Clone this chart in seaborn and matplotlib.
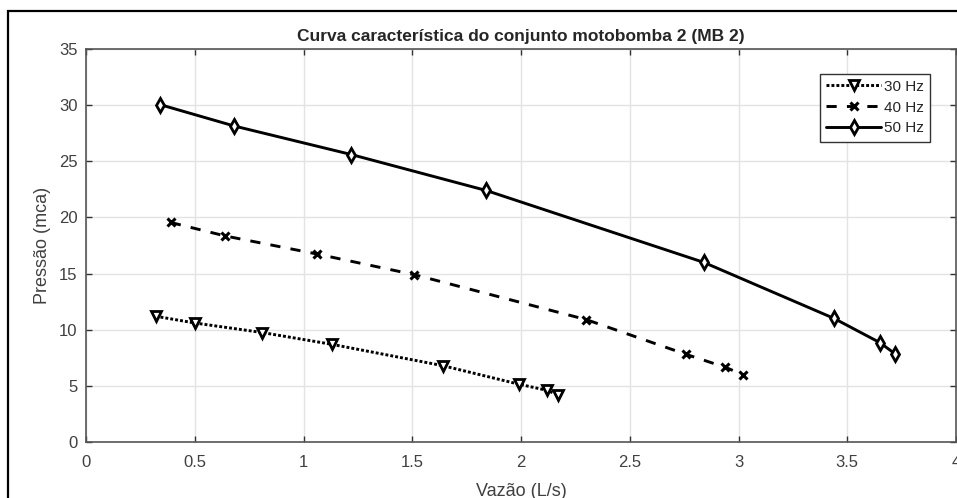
import matplotlib
matplotlib.use("Agg")
import matplotlib.pyplot as plt
from matplotlib.patches import Rectangle
import seaborn as sns
import pandas as pd

# flow (L/s) and head (mca)
vazao_30 = [0.32, 0.50, 0.81, 1.13, 1.64, 1.99, 2.12, 2.17]
pressao_30 = [11.2, 10.6, 9.75, 8.7, 6.8, 5.15, 4.6, 4.2]

vazao_40 = [0.39, 0.64, 1.06, 1.51, 2.30, 2.76, 2.94, 3.02]
pressao_40 = [19.55, 18.35, 16.75, 14.9, 10.9, 7.8, 6.65, 6.0]

vazao_50 = [0.34, 0.68, 1.22, 1.84, 2.84, 3.44, 3.65, 3.72]
pressao_50 = [30.05, 28.15, 25.6, 22.4, 16.0, 11.0, 8.85, 7.85]

series = ["30 Hz", "40 Hz", "50 Hz"]
x_ticks = [0, 0.5, 1, 1.5, 2, 2.5, 3, 3.5, 4]
x_tick_labels = ["0", "0.5", "1", "1.5", "2", "2.5", "3", "3.5", "4"]
y_ticks = [0, 5, 10, 15, 20, 25, 30, 35]

df = pd.concat([
    pd.DataFrame({"vazao": vazao_30, "pressao": pressao_30, "freq": series[0]}),
    pd.DataFrame({"vazao": vazao_40, "pressao": pressao_40, "freq": series[1]}),
    pd.DataFrame({"vazao": vazao_50, "pressao": pressao_50, "freq": series[2]}),
])

sns.set_style("ticks")
plt.rcParams["font.family"] = ["Liberation Sans", "DejaVu Sans"]

styles = {
    "30 Hz": dict(linestyle=(0, (1, 0.7)), marker="v", markersize=7),
    "40 Hz": dict(linestyle=(0, (3.5, 3.5)), marker="x", markersize=6, markeredgewidth=2.2),
    "50 Hz": dict(linestyle="-", marker="d", markersize=7.5),
}

fig = plt.figure(figsize=(9.57, 4.98), dpi=100)
ax = fig.add_axes([86 / 957, 56 / 498, 870 / 957, 393 / 498])

for name in series:
    sub = df[df["freq"] == name]
    st = styles[name]
    sns.lineplot(data=sub, x="vazao", y="pressao", ax=ax, color="black",
                 linewidth=2.1, linestyle=st["linestyle"], marker=st["marker"],
                 markersize=st["markersize"], markerfacecolor="white",
                 markeredgecolor="black",
                 markeredgewidth=st.get("markeredgewidth", 2.0),
                 label=name, sort=False, estimator=None)

ax.set_xlim(0, 4)
ax.set_ylim(0, 35)
ax.set_xticks(x_ticks)
ax.set_xticklabels(x_tick_labels)
ax.set_yticks(y_ticks)
ax.grid(True, color="#e3e3e3", linewidth=1.0)
ax.set_axisbelow(True)

for sp in ax.spines.values():
    sp.set_color("#555555")
    sp.set_linewidth(1.2)
ax.tick_params(direction="in", length=4, width=1.0, color="#333333",
               labelcolor="#404040", labelsize=12, top=True, right=True)
ax.tick_params(axis="x", pad=9)
ax.tick_params(axis="y", pad=6)

ax.set_title("Curva característica do conjunto motobomba 2 (MB 2)",
             fontsize=12.5, fontweight="bold", pad=6)
ax.set_xlabel("Vazão (L/s)", fontsize=13, color="#404040", labelpad=10)
ax.set_ylabel("Pressão (mca)", fontsize=13, color="#404040", labelpad=6)

leg = ax.legend(loc="upper right", bbox_to_anchor=(0.979, 0.957), fontsize=11,
                handlelength=3.6, handletextpad=0.2, borderpad=0.4,
                labelspacing=0.45, fancybox=False, framealpha=1,
                edgecolor="#333333")
leg.get_frame().set_linewidth(1.0)

# outer frame of the exported figure (cut at right and bottom)
fig.patches.append(Rectangle((8 / 957, -0.2), 1.2, 1.2 - 11 / 498,
                             transform=fig.transFigure, fill=False,
                             edgecolor="black", linewidth=1.6))

fig.savefig("out.png", dpi=100)
